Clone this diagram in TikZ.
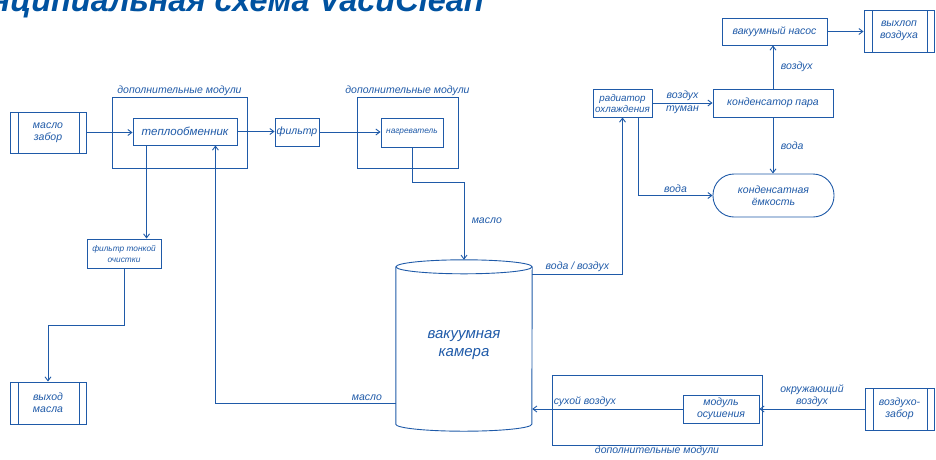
\documentclass[tikz,border=0pt]{standalone}
\usepackage{fontspec}
\setmainfont{Liberation Sans}
\usetikzlibrary{positioning}
\usetikzlibrary{arrows.meta}
\definecolor{vcblue}{RGB}{31,90,168}
\definecolor{vctitle}{RGB}{0,82,160}
\tikzset{
    txt/.style = {font=\fontsize{10.5}{12}\selectfont\itshape, text=vcblue},
    txts/.style = {font=\fontsize{8.3}{11}\selectfont\itshape, text=vcblue},
    unit/.style = {rectangle, draw=vcblue, line width=0.9pt, fill=white, align=center, inner sep=1pt, txt},
    grp/.style = {rectangle, draw=vcblue, line width=0.9pt},
    grplabel/.style = {txt, label distance=-3pt},
    ext/.style = {unit, path picture={
        \draw[vcblue, line width=0.6pt]
          ([xshift=8pt]path picture bounding box.north west) -- ([xshift=8pt]path picture bounding box.south west)
          ([xshift=-7pt]path picture bounding box.north east) -- ([xshift=-7pt]path picture bounding box.south east);}},
    flow/.style = {draw=vcblue, line width=0.9pt, -{Straight Barb[length=4pt,width=6pt]}},
    cyl/.style = {draw=vcblue, line width=0.9pt}
}
\begin{document}
\begin{tikzpicture}[x=1pt, y=-1pt]
  \useasboundingbox (0,0) rectangle (936,459);
  \begin{scope}
    \clip (0,0) rectangle (936,459);
    \node[anchor=base east, inner sep=0pt, text=vctitle, font=\fontsize{32.5}{33}\selectfont\bfseries\itshape] (title) at (484,11) {Принципиальная схема VacuClean};
  \end{scope}

  % groups of extra modules
  \node[grp, minimum width=135pt, minimum height=71pt, label={[grplabel]above:дополнительные модули}] (grp1) at (179.5,132.5) {};
  \node[grp, minimum width=101pt, minimum height=71pt, label={[grplabel]above:дополнительные модули}] (grp2) at (407.5,132.5) {};
  \node[grp, minimum width=210pt, minimum height=70pt, label={[grplabel]below:дополнительные модули}] (grp3) at (657,410) {};

  \node[ext, minimum width=76pt, minimum height=41pt] (zab) at (48,132.5) {масло\\забор};
  \node[ext, minimum width=76pt, minimum height=42pt] (vyhod) at (48,403) {выход\\масла};
  \node[unit, font=\fontsize{11.5}{13}\selectfont\itshape, minimum width=104pt, minimum height=27pt] (teplo) at (185,131.5) {теплообменник};
  \node[unit, minimum width=44pt, minimum height=28pt] (filt) at (297,132) {фильтр};
  \node[unit, txts, minimum width=62pt, minimum height=29pt] (nagr) at (412,132.5) {нагреватель};
  \node[unit, txts, minimum width=74pt, minimum height=29pt] (ftonk) at (124,253.5) {фильтр тонкой\\очистки};

  \node[txt, font=\fontsize{15}{18}\selectfont\itshape, align=center, minimum width=136pt, minimum height=171pt] (cam) at (464,345.5) {вакуумная\\камера};
  \draw[cyl] ([yshift=-7pt]cam.north west) -- ([yshift=7pt]cam.south west)
    arc[start angle=180, end angle=360, x radius=68pt, y radius=7pt]
    -- ([yshift=-7pt]cam.north east);
  \draw[cyl] ([yshift=-7pt]cam.north) ellipse [x radius=68pt, y radius=7pt];

  \node[unit, font=\fontsize{9.8}{11}\selectfont\itshape, minimum width=59pt, minimum height=28pt] (rad) at (622.5,103) {радиатор\\охлаждения};
  \node[unit, minimum width=120pt, minimum height=28pt] (kond) at (773,103) {конденсатор пара};
  \node[unit, minimum width=105pt, minimum height=27pt] (nasos) at (774.5,31.5) {вакуумный насос};
  \node[ext, minimum width=70pt, minimum height=42pt] (vyhlop) at (899,31) {выхлоп\\воздуха};
  \node[unit, rounded corners=21pt, minimum width=121pt, minimum height=43pt] (emk) at (773.5,195.5) {конденсатная\\ёмкость};
  \node[unit, minimum width=76pt, minimum height=28pt] (osush) at (721,409) {модуль\\осушения};
  \node[ext, minimum width=69pt, minimum height=42pt] (vzab) at (899.5,409) {воздухо-\\забор};

  \coordinate (oilbend) at (412,182);
  \coordinate (finebend) at (124,325);

  \draw[flow] (zab.east) -- (zab.east -| teplo.west);
  \draw[flow] (teplo.east) -- (teplo.east -| filt.west);
  \draw[flow] (filt.east) -- (filt.east -| nagr.west);
  \draw[flow] (nagr.south) -- (oilbend) -| node[txt, pos=0.75, right=4pt] {масло} (cam.north);
  \draw[flow] ([yshift=-15pt]cam.north east) -| node[txt, pos=0.25, above=-1pt] {вода / воздух} (rad.south);
  \draw[flow] ([yshift=28pt]cam.south west) -| node[txt, pos=0.08, above=-1pt] {масло} ([xshift=-22pt]teplo.south east);
  \draw[flow] ([xshift=14pt]teplo.south west) -- ([xshift=14pt]teplo.south west |- ftonk.north);
  \draw[flow] (ftonk.south) -- (finebend) -| (vyhod.north);
  \draw[flow] (rad.east) -- node[txt, above=-1pt] {воздух} node[txt, below=-1pt] {туман} (kond.west);
  \draw[flow] (kond.north) -- node[txt, right=4pt] {воздух} (kond.north |- nasos.south);
  \draw[flow] (nasos.east) -- (nasos.east -| vyhlop.west);
  \draw[flow] (kond.south) -- node[txt, right=4pt] {вода} (kond.south |- emk.north);
  \draw[flow] ([xshift=-14pt]rad.south east) |- node[txt, pos=0.75, above=-1pt] {вода} (emk.west);
  \draw[flow] (vzab.west) -- node[txt, align=center, above=-1pt] {окружающий\\воздух} (vzab.west -| osush.east);
  \draw[flow] (osush.west) -- node[txt, pos=0.65, above=-1pt] {сухой воздух} (osush.west -| cam.east);
\end{tikzpicture}
\end{document}
